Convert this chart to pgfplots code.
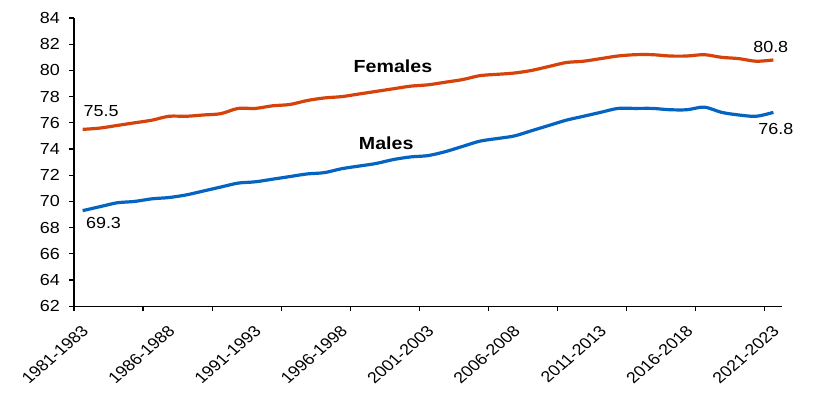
\documentclass[border=0pt]{standalone}
\usepackage{pgfplots}
\usepackage{pgfplotstable}
\usepackage{fontspec}
\setmainfont{Liberation Sans}[FakeStretch=1.12]
\newfontfamily\plainfont{Liberation Sans}
\pgfplotsset{compat=1.18}

\definecolor{femcol}{RGB}{213,66,10}
\definecolor{malcol}{RGB}{5,99,193}

% life expectancy, 3-year periods, index 0 = 1981-1983
\pgfplotstableread{
idx females males
0  75.5 69.3
1  75.6 69.6
2  75.8 69.9
3  76.0 70.0
4  76.2 70.2
5  76.5 70.3
6  76.5 70.5
7  76.6 70.8
8  76.7 71.1
9  77.1 71.4
10 77.1 71.5
11 77.3 71.7
12 77.4 71.9
13 77.7 72.1
14 77.9 72.2
15 78.0 72.5
16 78.2 72.7
17 78.4 72.9
18 78.6 73.2
19 78.8 73.4
20 78.9 73.5
21 79.1 73.8
22 79.3 74.2
23 79.6 74.6
24 79.7 74.8
25 79.8 75.0
26 80.0 75.4
27 80.3 75.8
28 80.6 76.2
29 80.7 76.5
30 80.9 76.8
31 81.1 77.1
32 81.2 77.1
33 81.2 77.1
34 81.1 77.0
35 81.1 77.0
36 81.2 77.2
37 81.0 76.8
38 80.9 76.6
39 80.7 76.5
40 80.8 76.8
}\lifetab

\begin{document}
\begin{tikzpicture}
\path[use as bounding box] (-74bp,-102.7bp) rectangle (762bp,306.3bp);
\begin{axis}[
    at={(0,0)}, anchor=south west,
    scale only axis,
    width=708bp, height=288.3bp,
    xmin=-0.5, xmax=40.5,
    ymin=62, ymax=84,
    ytick={62,64,...,84},
    xtick={0,5,...,40},
    xticklabels={1981-1983,1986-1988,1991-1993,1996-1998,2001-2003,2006-2008,2011-2013,2016-2018,2021-2023},
    minor xtick={-0.5,3.5,...,39.5},
    axis x line*=bottom, axis y line*=left,
    axis line style={-, line width=1.2bp},
    tick align=outside,
    major tick length=5bp, minor tick length=5bp,
    major x tick style={draw=none},
    minor x tick style={black, line width=1.2bp},
    y tick style={black, line width=1.2bp},
    /pgf/number format/assume math mode=true,
    tick label style={font=\fontsize{16bp}{19bp}\selectfont},
    yticklabel style={inner sep=0pt, xshift=-9bp},
    xticklabel style={font=\plainfont\fontsize{15.5bp}{18bp}\selectfont,
        xshift=-2bp, yshift=-13bp, xscale=1.15, rotate=45,
        anchor=north east, inner sep=0pt},
    clip=false,
]
\addplot[femcol, line width=3.2bp, smooth] table[x=idx, y=females] {\lifetab};
\addplot[malcol, line width=3.2bp, smooth] table[x=idx, y=males] {\lifetab};

\node[font=\fontsize{17.5bp}{21bp}\selectfont\bfseries] at (axis cs:17.97,80.33) {Females};
\node[font=\fontsize{17.5bp}{21bp}\selectfont\bfseries] at (axis cs:17.58,74.42) {Males};
\node[font=\fontsize{16bp}{19bp}\selectfont] at (axis cs:1.07,76.92) {75.5};
\node[font=\fontsize{16bp}{19bp}\selectfont] at (axis cs:1.21,68.33) {69.3};
\node[font=\fontsize{16bp}{19bp}\selectfont] at (axis cs:39.85,81.77) {80.8};
\node[font=\fontsize{16bp}{19bp}\selectfont] at (axis cs:40.14,75.5) {76.8};
\end{axis}
\end{tikzpicture}
\end{document}
